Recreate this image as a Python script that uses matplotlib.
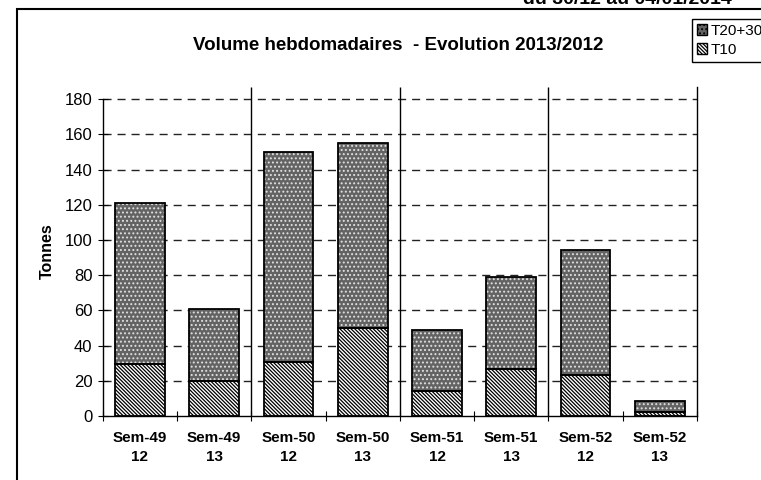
import numpy as np
import matplotlib
matplotlib.use("Agg")
import matplotlib.pyplot as plt
from matplotlib.patches import Patch, Rectangle

plt.rcParams['font.family'] = ['Liberation Sans', 'DejaVu Sans']
plt.rcParams['hatch.linewidth'] = 0.9

weeks = ["Sem-49", "Sem-49", "Sem-50", "Sem-50", "Sem-51", "Sem-51", "Sem-52", "Sem-52"]
years = ["12", "13", "12", "13", "12", "13", "12", "13"]
t10 = [29.5, 20, 30.5, 50, 14, 26.5, 23, 2]
total = [121, 61, 150, 155, 49, 79, 94.5, 8.5]
t2030 = [t - a for t, a in zip(total, t10)]
yticks = [0, 20, 40, 60, 80, 100, 120, 140, 160, 180]

HATCH_T10 = '\\' * 9
HATCH_T20 = '....'
GRAY = '#636363'

fig = plt.figure(figsize=(7.61, 4.8), dpi=100)
ax = fig.add_axes([0.135, 0.1335, 0.7809, 0.6857])

x = np.arange(len(weeks))
w = 0.67

# dashed grid
ax.hlines(yticks[1:], -0.5, 7.5, colors='#222222', linewidth=1,
          linestyles=(0, (5.8, 4.3)), zorder=1)
# separators between weeks
ax.vlines([1.5, 3.5, 5.5], 0, 187, colors='black', linewidth=1, zorder=1)

# T10: diagonal hatch
ax.bar(x, t10, w, color='white', edgecolor='black', hatch=HATCH_T10,
       linewidth=0, zorder=2)
ax.bar(x, t10, w, fill=False, edgecolor='black', linewidth=1.3, zorder=3)
# T20+30: gray with dots
ax.bar(x, t2030, w, bottom=t10, color=GRAY, edgecolor='#e0e0e0',
       hatch=HATCH_T20, linewidth=0, zorder=2)
ax.bar(x, t2030, w, bottom=t10, fill=False, edgecolor='black',
       linewidth=1.3, zorder=3)

ax.set_xlim(-0.5, 7.5)
ax.set_ylim(0, 187)
ax.spines['top'].set_visible(False)
ax.spines['left'].set_bounds(0, 180)
for s in ax.spines.values():
    s.set_linewidth(1)

ax.set_yticks(yticks)
ax.tick_params(axis='y', direction='inout', length=7, labelsize=12, pad=4)
ax.set_xticks(np.arange(-0.5, 8, 1))
ax.set_xticklabels([])
ax.tick_params(axis='x', which='major', direction='inout', length=7)
ax.set_xticks(x, minor=True)
ax.set_xticklabels([f"{a}\n{b}" for a, b in zip(weeks, years)], minor=True,
                   fontsize=11, fontweight='bold', linespacing=1.45)
ax.tick_params(axis='x', which='minor', length=0, pad=11)
ax.set_ylabel("Tonnes", fontsize=11.5, fontweight='bold', labelpad=7)

fig.text(0.523, 1 - 45 / 480, "Volume hebdomadaires  - Evolution 2013/2012",
         ha='center', va='center', fontsize=13.5, fontweight='bold')
fig.text(0.962, 1 - 4 / 480, "du 30/12 au 04/01/2014", ha='right',
         va='baseline', fontsize=14, fontweight='bold')

# outer frame
fig.add_artist(Rectangle((17 / 761, -0.1), 1.2, 1 - 9 / 480 + 0.1,
                         transform=fig.transFigure, fill=False,
                         edgecolor='black', linewidth=1.5))

handles = [Patch(facecolor=GRAY, edgecolor='black', hatch=HATCH_T20, label='T20+30'),
           Patch(facecolor='white', edgecolor='black', hatch=HATCH_T10, label='T10')]
leg = fig.legend(handles=handles, loc='upper left',
                 bbox_to_anchor=(692 / 761, 1 - 19 / 480), fontsize=11,
                 handlelength=0.7, handleheight=0.7, handletextpad=0.25,
                 borderpad=0.3, labelspacing=0.35, fancybox=False,
                 edgecolor='black', framealpha=1, borderaxespad=0)
leg.get_frame().set_linewidth(1)

fig.savefig("out.png", dpi=100)
